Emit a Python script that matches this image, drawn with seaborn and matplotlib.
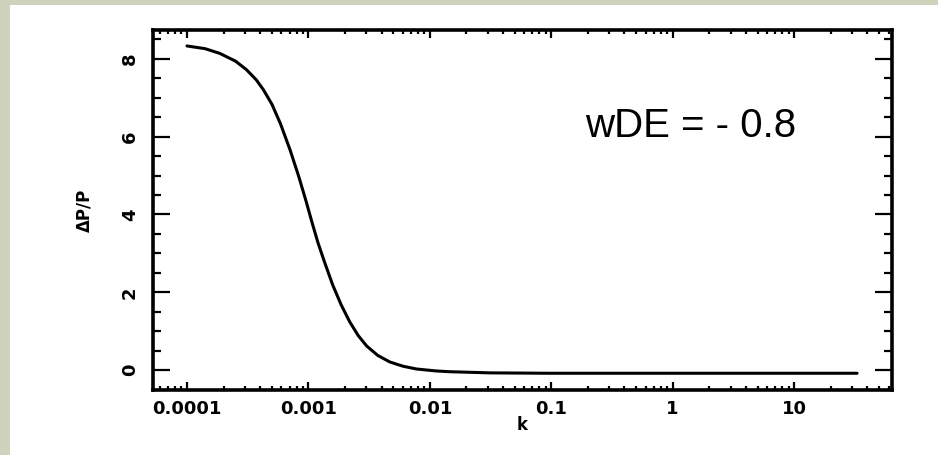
import numpy as np
import pandas as pd
import matplotlib
matplotlib.use("Agg")
import matplotlib.pyplot as plt
from matplotlib.patches import Rectangle
from matplotlib.ticker import LogLocator, FixedLocator, MultipleLocator, NullFormatter
import seaborn as sns

# Data
k_values = [1.0e-4, 1.41e-4, 1.86e-4, 2.51e-4, 3.09e-4, 3.72e-4, 4.27e-4, 5.01e-4,
            5.89e-4, 7.08e-4, 8.32e-4, 9.55e-4, 1.07e-3, 1.20e-3, 1.35e-3, 1.58e-3,
            1.86e-3, 2.19e-3, 2.57e-3, 3.02e-3, 3.72e-3, 4.68e-3, 6.03e-3, 7.76e-3,
            1.12e-2, 1.45e-2, 3.16e-2, 0.1, 1.0, 10.0, 33.0]
dP_over_P = [8.33, 8.26, 8.14, 7.94, 7.72, 7.46, 7.20, 6.83,
             6.33, 5.65, 4.98, 4.35, 3.80, 3.27, 2.80, 2.20,
             1.68, 1.24, 0.89, 0.62, 0.38, 0.21, 0.10, 0.03,
             -0.02, -0.04, -0.07, -0.08, -0.08, -0.08, -0.08]
x_ticks = [1e-4, 1e-3, 1e-2, 1e-1, 1, 10]
x_tick_labels = ["0.0001", "0.001", "0.01", "0.1", "1", "10"]
y_ticks = [0, 2, 4, 6, 8]
y_tick_labels = ["0", "2", "4", "6", "8"]
annotation = "wDE = - 0.8"

sns.set_theme(style="ticks")
plt.rcParams["font.family"] = ["DejaVu Sans"]
plt.rcParams.update({"text.color": "black", "axes.labelcolor": "black",
                     "xtick.color": "black", "ytick.color": "black",
                     "xtick.labelcolor": "black", "ytick.labelcolor": "black"})

W, H = 938, 455
fig = plt.figure(figsize=(W / 100, H / 100), dpi=100, facecolor="#cfd3bd")
fig.add_artist(Rectangle((10 / W, 0), 1 - 10 / W, 1 - 5 / H, transform=fig.transFigure,
                         facecolor="white", edgecolor="none", zorder=-10))

L, R, T, B = 153, 892, 30, 390
ax = fig.add_axes([L / W, 1 - B / H, (R - L) / W, (B - T) / H])
ax.set_facecolor("white")

df = pd.DataFrame({"k": k_values, "dPP": dP_over_P})
sns.lineplot(data=df, x="k", y="dPP", ax=ax, color="black", linewidth=2.2, sort=False)

ax.set_xscale("log")
ax.set_xlim(5.25e-5, 64)
ax.set_ylim(-0.51, 8.74)

ax.xaxis.set_major_locator(FixedLocator(x_ticks))
ax.set_xticklabels(x_tick_labels)
ax.xaxis.set_minor_locator(LogLocator(base=10, subs=np.arange(2, 10)))
ax.xaxis.set_minor_formatter(NullFormatter())
ax.yaxis.set_major_locator(FixedLocator(y_ticks))
ax.set_yticklabels(y_tick_labels)
ax.yaxis.set_minor_locator(MultipleLocator(0.5))

for sp in ax.spines.values():
    sp.set_visible(True)
    sp.set_linewidth(2.6)
    sp.set_color("black")

ax.tick_params(axis="both", which="both", direction="in", top=True, right=True,
               color="black", labelcolor="black", width=1.6)
ax.tick_params(axis="x", which="major", length=6, pad=7)
ax.tick_params(axis="x", which="minor", length=3)
ax.tick_params(axis="y", which="major", length=12, pad=10)
ax.tick_params(axis="y", which="minor", length=6)

for lab in ax.get_xticklabels():
    lab.set_fontsize(13)
    lab.set_fontweight("heavy")
for lab in ax.get_yticklabels():
    lab.set_fontsize(13)
    lab.set_fontweight("heavy")
    lab.set_rotation(90)
    lab.set_va("center")

ax.set_xlabel("k", fontsize=12, fontweight="heavy", labelpad=-1, color="black")
ax.set_ylabel("ΔP/P", fontsize=12, fontweight="heavy", labelpad=20, color="black")
ax.grid(False)

ax.text(0.584, 0.703, annotation, transform=ax.transAxes, ha="left", va="baseline",
        fontsize=29, family=["Liberation Sans", "DejaVu Sans"], color="black")

fig.savefig("out.png", dpi=100, facecolor=fig.get_facecolor())
